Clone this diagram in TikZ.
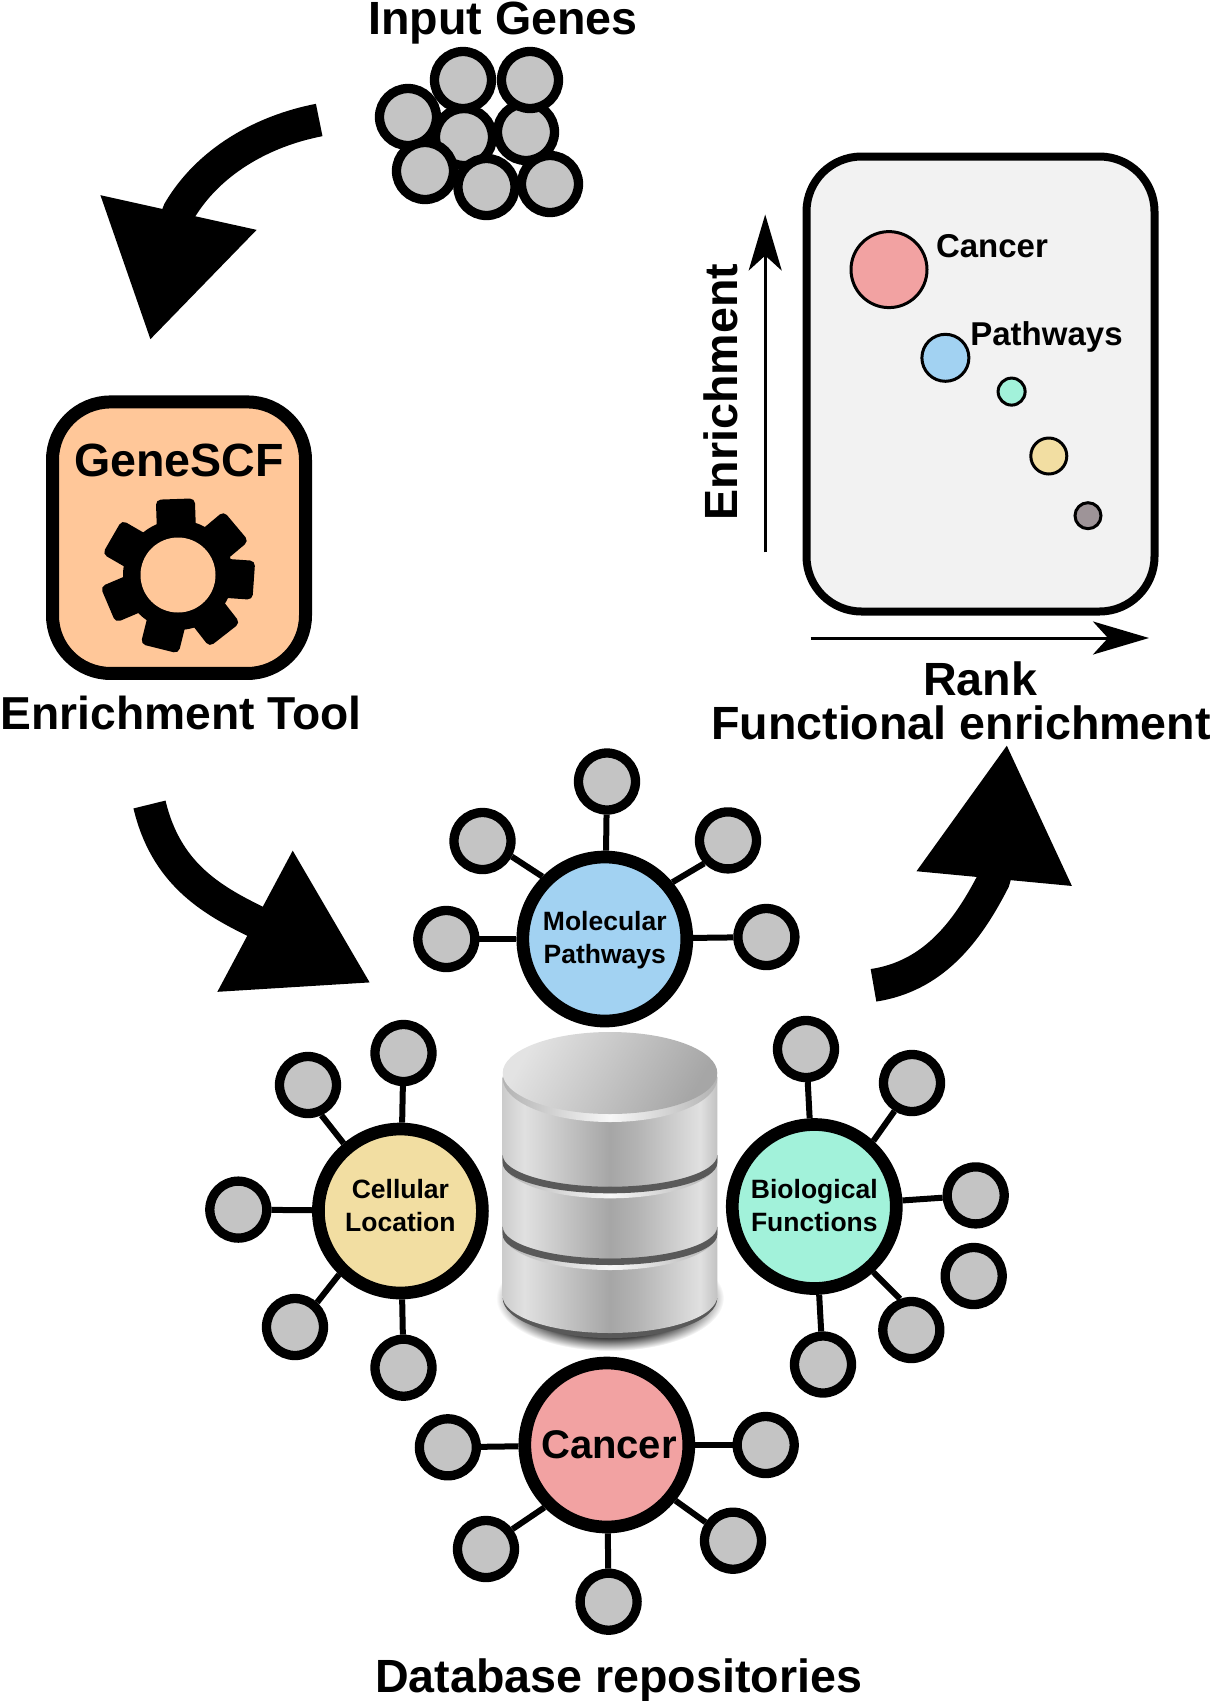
\documentclass[tikz,border=0pt]{standalone}
\usepackage{fontspec}
\setmainfont{Liberation Sans}
\usetikzlibrary{arrows.meta}
\definecolor{leafgray}{HTML}{C4C4C4}
\definecolor{toolpeach}{HTML}{FFC799}
\definecolor{plotgray}{HTML}{F2F2F2}
\definecolor{cancerred}{HTML}{F2A2A2}
\definecolor{pathblue}{HTML}{A2D2F2}
\definecolor{funcgreen}{HTML}{A2F2DA}
\definecolor{cellyellow}{HTML}{F2DEA2}
\definecolor{dotgray}{HTML}{9E9498}
\pgfdeclarehorizontalshading{dbside}{100bp}{color(0bp)=(black!20); color(25bp)=(black!20); color(30bp)=(black!12); color(50bp)=(black!35); color(56bp)=(black!30); color(71bp)=(black!12); color(75bp)=(black!24); color(100bp)=(black!24)}
\pgfdeclarehorizontalshading{dblip}{100bp}{color(0bp)=(black!30); color(25bp)=(black!30); color(50bp)=(black!3); color(75bp)=(black!30); color(100bp)=(black!30)}
\pgfdeclareradialshading{dbshadow}{\pgfpoint{0bp}{0bp}}{color(0bp)=(black!75); color(19bp)=(black!75); color(25bp)=(white); color(50bp)=(white)}
\begin{document}
\begin{tikzpicture}[x=1pt,y=-1pt]
	\tikzset{
		genenode/.style = {circle, draw=black, line width=9.3pt, fill=leafgray, inner sep=0pt, minimum size=57pt},
		hubnode/.style = {circle, draw=black, line width=12.7pt, inner sep=0pt, minimum size=164pt, align=center, font=\bfseries\fontsize{26.5}{33}\selectfont},
		dotnode/.style = {circle, draw=black, line width=3pt, inner sep=0pt},
		biglabel/.style = {anchor=base, inner sep=0pt, font=\bfseries\fontsize{46.6}{50}\selectfont},
		dotlabel/.style = {anchor=base, inner sep=0pt, font=\bfseries\fontsize{33}{36}\selectfont},
		leafedge/.style = {line width=6pt},
		bigarrow/.style = {line width=33pt, line join=bevel},
		axisarrow/.style = {line width=3pt, -{Stealth[length=56pt,width=33pt,inset=15pt]}},
	}
	\useasboundingbox (0,0) rectangle (1210,1701);
	% input genes
	\node[biglabel] at (503,34.5) (inputlabel) {Input Genes};
	\node[genenode] at (408,117) (gene1) {};
	\node[genenode] at (464,137) (gene2) {};
	\node[genenode] at (526,132) (gene3) {};
	\node[genenode] at (463,80) (gene4) {};
	\node[genenode] at (530,80) (gene5) {};
	\node[genenode] at (425,171) (gene6) {};
	\node[genenode] at (486.5,187) (gene7) {};
	\node[genenode] at (550,184) (gene8) {};
	% enrichment tool
	\node[draw=black, line width=13pt, fill=toolpeach, rounded corners=58pt, minimum width=253pt, minimum height=271.5pt] at (179,537.7) (tool) {};
	\node[biglabel] at (179,476.6) (toolname) {GeneSCF};
	\foreach \toothang in {92,40,-4,-52,-104,-157,150} {
		\fill[rounded corners=5pt, shift={(178,575)}, rotate=\toothang-90] (-19.5pt,45pt) rectangle (19.5pt,76pt);
	}
	\fill (178,575) circle[radius=55pt];
	\fill[toolpeach] (178,575) circle[radius=37.5pt];
	\node[biglabel, font=\bfseries\fontsize{46.2}{50}\selectfont] at (181,729) (toollabel) {Enrichment Tool};
	% plot
	\node[draw=black, line width=8pt, fill=plotgray, rounded corners=55pt, minimum width=348pt, minimum height=455pt] at (980.5,384) (plot) {};
	\node[dotnode, fill=cancerred, minimum size=76pt] at (889,269.6) (dota) {};
	\node[dotnode, fill=pathblue, minimum size=47pt] at (945.4,357.8) (dotb) {};
	\node[dotnode, fill=funcgreen, minimum size=27pt] at (1011.6,391.6) (dotc) {};
	\node[dotnode, fill=cellyellow, minimum size=36pt] at (1048.8,456) (dotd) {};
	\node[dotnode, fill=dotgray, minimum size=26pt] at (1088,515.7) (dote) {};
	\node[dotlabel] at (992,257) (dotalabel) {Cancer};
	\node[dotlabel] at (1046.5,345.5) (dotblabel) {Pathways};
	\coordinate (ybottom) at (765.2,552.4);
	\coordinate (ytop) at (765.2,214.5);
	\coordinate (xleft) at (810.5,638);
	\coordinate (xright) at (1149,638);
	\draw[axisarrow] (ybottom) -- (ytop);
	\draw[axisarrow] (xleft) -- (xright);
	\node[biglabel, rotate=90] at (737,392) (ylabel) {Enrichment};
	\node[biglabel] at (980,695) (xlabel) {Rank};
	\node[biglabel] at (961,739) (plotlabel) {Functional enrichment};
	% big arrows
	\coordinate (arrowa) at (319.2,120);
	\coordinate (basea) at (178.6,212.2);
	\coordinate (tipa) at (150,341);
	\coordinate (arrowb) at (149.5,804.5);
	\coordinate (baseb) at (254.6,921);
	\coordinate (tipb) at (371.3,983.3);
	\coordinate (arrowc) at (873.5,985.3);
	\coordinate (basec) at (994.15,879.1);
	\coordinate (tipc) at (1007,743.6);
	\draw[bigarrow, -{Triangle[length=131.6pt,width=150pt]}] (arrowa) .. controls (262,131) and (207.6,162) .. (basea) -- (tipa);
	\draw[bigarrow, -{Triangle[length=131.8pt,width=150pt]}] (arrowb) .. controls (165.6,872.4) and (209.6,899) .. (baseb) -- (tipb);
	\draw[bigarrow, -{Triangle[length=135.6pt,width=146pt]}] (arrowc) .. controls (932.8,976.2) and (967,932.7) .. (basec) -- (tipc);
	% database
	\shade[shading=dbshadow] (610,1298) ellipse[x radius=114pt, y radius=53pt];
	\fill[black!65] (502.7,1298) arc[start angle=180, end angle=360, x radius=107.3pt, y radius=40pt] -- cycle;
	\shade[shading=dbside] (502.7,1077) -- (502.7,1296) arc[start angle=180, end angle=360, x radius=107.3pt, y radius=37pt] -- (717.3,1077) -- cycle;
	\foreach \sy in {1155,1226.7} {
		\shade[shading=dblip] (502.7,\sy) arc[start angle=180, end angle=360, x radius=107.3pt, y radius=32pt] -- (717.3,{\sy+6}) arc[start angle=0, end angle=-180, x radius=107.3pt, y radius=37.3pt] -- cycle;
		\fill[black!65] (502.7,\sy) arc[start angle=180, end angle=360, x radius=107.3pt, y radius=31.7pt] -- (717.3,{\sy+8}) arc[start angle=0, end angle=-180, x radius=107.3pt, y radius=30.3pt] -- cycle;
	}
	\shade[shading=dblip] (610,1078) ellipse[x radius=107.3pt, y radius=44pt];
	\shade[left color=black!11, middle color=black!12, right color=black!35, shading angle=60] (610,1073) ellipse[x radius=107.3pt, y radius=41pt];
	% molecular pathways
	\node[hubnode, fill=pathblue, text depth=2.5pt] at (604.8,939) (mol) {Molecular\\Pathways};
	\node[genenode] at (607,781.5) (mola) {};
	\node[genenode] at (482.5,841) (molb) {};
	\node[genenode] at (728,840.4) (molc) {};
	\node[genenode] at (446.3,939) (mold) {};
	\node[genenode] at (766.4,937) (mole) {};
	\draw[leafedge] (mol) -- (mola);
	\draw[leafedge] (mol.135) -- (molb.-28);
	\draw[leafedge] (mol.40) -- (molc.-136);
	\draw[leafedge] (mol) -- (mold);
	\draw[leafedge] (mol) -- (mole);
	% cellular location
	\node[hubnode, fill=cellyellow, text depth=11pt] at (400.4,1211) (cell) {Cellular\\Location};
	\node[genenode] at (403.5,1053) (cella) {};
	\node[genenode] at (308,1085) (cellb) {};
	\node[genenode] at (238.3,1209.6) (cellc) {};
	\node[genenode] at (295,1327) (celld) {};
	\node[genenode] at (403.5,1367.7) (celle) {};
	\draw[leafedge] (cell) -- (cella);
	\draw[leafedge] (cell.130) -- (cellb.-66);
	\draw[leafedge] (cell) -- (cellc);
	\draw[leafedge] (cell.226) -- (celld.48);
	\draw[leafedge] (cell) -- (celle);
	% biological functions
	\node[hubnode, fill=funcgreen, text depth=3pt] at (814.3,1206.5) (func) {Biological\\Functions};
	\node[genenode] at (806,1049) (funca) {};
	\node[genenode] at (912,1083) (funcb) {};
	\node[genenode] at (975.7,1195.4) (funcc) {};
	\node[genenode] at (973.7,1276) (funcd) {};
	\node[genenode] at (911.3,1330) (funce) {};
	\node[genenode] at (823,1364.5) (funcf) {};
	\draw[leafedge] (func) -- (funca);
	\draw[leafedge] (func.48) -- (funcb.-122);
	\draw[leafedge] (func) -- (funcc);
	\draw[leafedge] (func.-48) -- (funce.110);
	\draw[leafedge] (func) -- (funcf);
	% cancer
	\node[hubnode, fill=cancerred, font=\bfseries\fontsize{40}{44}\selectfont] at (606.8,1445) (canc) {\hspace*{4.3pt}Cancer};
	\node[genenode] at (447.9,1447.3) (canca) {};
	\node[genenode] at (765.7,1445) (cancb) {};
	\node[genenode] at (486,1549) (cancc) {};
	\node[genenode] at (733,1540.7) (cancd) {};
	\node[genenode] at (608.6,1601.7) (cance) {};
	\draw[leafedge] (canc) -- (canca);
	\draw[leafedge] (canc) -- (cancb);
	\draw[leafedge] (canc.225) -- (cancc.37);
	\draw[leafedge] (canc.-39) -- (cancd.146);
	\draw[leafedge] (canc) -- (cance);
	\node[biglabel] at (618.8,1692) (dblabel) {Database repositories};
\end{tikzpicture}
\end{document}
